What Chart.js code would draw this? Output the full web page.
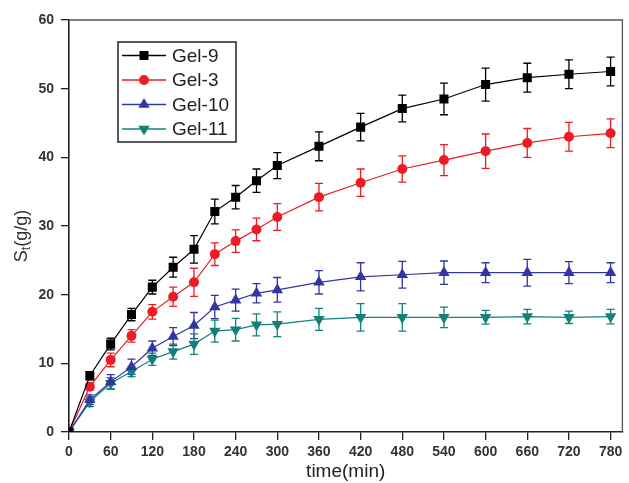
<!DOCTYPE html>
<html>
<head>
<meta charset="utf-8">
<script src="https://cdn.jsdelivr.net/npm/chart.js@4.4.1/dist/chart.umd.min.js"></script>
<style>
  html, body { margin: 0; padding: 0; background: #ffffff; }
  #wrap { width: 629px; height: 483px; }
</style>
</head>
<body>
<div id="wrap"><canvas id="c" width="629" height="483"></canvas></div>
<script>
// ---- data ----
const timeMin = [0, 30, 60, 90, 120, 150, 180, 210, 240, 270, 300, 360, 420, 480, 540, 600, 660, 720, 780];
const xTickLabels = [0, 60, 120, 180, 240, 300, 360, 420, 480, 540, 600, 660, 720, 780];
const yTickLabels = [0, 10, 20, 30, 40, 50, 60];
const seriesNames = ['Gel-9', 'Gel-3', 'Gel-10', 'Gel-11'];

const gel9    = [0, 8.2, 12.8, 17.1, 21.1, 24.0, 26.6, 32.1, 34.2, 36.6, 38.8, 41.6, 44.4, 47.1, 48.5, 50.6, 51.6, 52.1, 52.5];
const gel9Err = [0, 0.6, 0.85, 0.9, 1.0, 1.45, 2.0, 1.8, 1.7, 1.7, 1.9, 2.1, 2.0, 1.95, 2.3, 2.4, 2.1, 2.1, 2.1];
const gel3    = [0, 6.6, 10.5, 14.0, 17.5, 19.7, 21.8, 25.9, 27.8, 29.5, 31.3, 34.2, 36.3, 38.3, 39.6, 40.9, 42.1, 43.0, 43.5];
const gel3Err = [0, 0.5, 1.0, 0.9, 1.05, 1.4, 2.05, 1.65, 1.65, 1.65, 1.95, 2.0, 2.0, 1.9, 2.25, 2.5, 2.1, 2.1, 2.1];
const gel10    = [0, 4.7, 7.3, 9.5, 12.2, 13.9, 15.5, 18.2, 19.2, 20.2, 20.7, 21.8, 22.6, 22.9, 23.2, 23.2, 23.2, 23.2, 23.2];
const gel10Err = [0, 0.7, 1.05, 1.1, 1.05, 1.3, 1.9, 1.7, 1.6, 1.4, 1.8, 1.7, 2.05, 1.95, 1.7, 1.45, 1.95, 1.6, 1.45];
const gel11    = [0, 4.4, 7.1, 8.8, 10.6, 11.7, 12.8, 14.7, 14.9, 15.6, 15.7, 16.4, 16.7, 16.7, 16.7, 16.7, 16.8, 16.7, 16.8];
const gel11Err = [0, 0.7, 0.8, 0.75, 0.9, 1.1, 1.5, 1.6, 1.65, 1.6, 1.8, 1.6, 2.0, 2.0, 1.5, 1.0, 1.05, 0.9, 1.05];

// ---- styles ----
const FONT = "'Liberation Sans', Arial, sans-serif";
const colors = ['#000000', '#ec1c24', '#3336a2', '#11827a'];
const pointStyles = ['rect', 'circle', 'triangle', 'triangle'];
const pointRots = [0, 0, 0, 180];
const pointRadii = [6.4, 5, 6.6, 6.6];

const valueSets = [gel9, gel3, gel10, gel11];
const errSets = [gel9Err, gel3Err, gel10Err, gel11Err];

function toXY(vals) { return timeMin.map((t, i) => ({ x: t, y: vals[i] })); }

const datasets = seriesNames.map((name, k) => ({
  label: name,
  data: toXY(valueSets[k]),
  errors: errSets[k],
  borderColor: colors[k],
  backgroundColor: colors[k],
  borderWidth: 1.2,
  pointStyle: pointStyles[k],
  pointRotation: pointRots[k],
  pointRadius: pointRadii[k],
  pointBorderWidth: 0,
  pointBackgroundColor: colors[k],
  tension: 0
}));

const errorBarPlugin = {
  id: 'errorBars',
  beforeDatasetsDraw(chart) {
    const ctx = chart.ctx;
    const ys = chart.scales.y;
    ctx.save();
    chart.data.datasets.forEach((ds, di) => {
      const meta = chart.getDatasetMeta(di);
      ctx.strokeStyle = ds.borderColor;
      ctx.lineWidth = 1.3;
      meta.data.forEach((pt, i) => {
        const e = ds.errors[i];
        if (!e) return;
        const v = ds.data[i].y;
        const yt = ys.getPixelForValue(v + e);
        const yb = ys.getPixelForValue(v - e);
        const x = pt.x;
        ctx.beginPath();
        ctx.moveTo(x, yt); ctx.lineTo(x, yb);
        ctx.moveTo(x - 4, yt); ctx.lineTo(x + 4, yt);
        ctx.moveTo(x - 4, yb); ctx.lineTo(x + 4, yb);
        ctx.stroke();
      });
    });
    ctx.restore();
  }
};

const framePlugin = {
  id: 'frame',
  afterDraw(chart) {
    const { ctx, chartArea: a } = chart;
    ctx.save();
    ctx.strokeStyle = '#555555';
    ctx.lineWidth = 1.3;
    ctx.beginPath();
    ctx.moveTo(a.left, a.top);
    ctx.lineTo(a.right, a.top);
    ctx.lineTo(a.right, a.bottom);
    ctx.stroke();
    ctx.restore();
  }
};

const yTitlePlugin = {
  id: 'yTitle',
  afterDraw(chart) {
    const ctx = chart.ctx;
    ctx.save();
    ctx.translate(22, 236);
    ctx.rotate(-Math.PI / 2);
    ctx.fillStyle = '#333333';
    ctx.textBaseline = 'middle';
    const big = '18px ' + FONT, small = '12px ' + FONT;
    ctx.font = big; const wS = ctx.measureText('S').width;
    ctx.font = small; const wT = ctx.measureText('t').width;
    ctx.font = big; const wR = ctx.measureText('(g/g)').width;
    let x = -(wS + wT + wR) / 2;
    ctx.font = big; ctx.fillText('S', x, 0); x += wS;
    ctx.font = small; ctx.fillText('t', x, 5); x += wT;
    ctx.font = big; ctx.fillText('(g/g)', x, 0);
    ctx.restore();
  }
};

const legendPlugin = {
  id: 'boxLegend',
  afterDraw(chart) {
    const ctx = chart.ctx;
    ctx.save();
    ctx.strokeStyle = '#222222';
    ctx.lineWidth = 1.5;
    ctx.strokeRect(118, 42, 118, 100);
    chart.data.datasets.forEach((ds, i) => {
      const y = 55.5 + i * 24.5;
      ctx.strokeStyle = ds.borderColor;
      ctx.lineWidth = 1.3;
      ctx.beginPath();
      ctx.moveTo(122, y); ctx.lineTo(166, y);
      ctx.stroke();
      ctx.fillStyle = ds.pointBackgroundColor;
      Chart.helpers.drawPoint(ctx, {
        pointStyle: ds.pointStyle, rotation: ds.pointRotation,
        radius: ds.pointRadius, borderWidth: 0
      }, 144, y);
      ctx.fillStyle = '#222222';
      ctx.font = '19px ' + FONT;
      ctx.textBaseline = 'middle';
      ctx.fillText(ds.label, 172, y + 1);
    });
    ctx.restore();
  }
};

new Chart(document.getElementById('c'), {
  type: 'line',
  data: { datasets },
  plugins: [errorBarPlugin, framePlugin, yTitlePlugin, legendPlugin],
  options: {
    responsive: false,
    animation: false,
    devicePixelRatio: 1,
    layout: { padding: { top: 20, right: 3, left: 0, bottom: 0 } },
    plugins: { legend: { display: false }, tooltip: { enabled: false } },
    scales: {
      x: {
        type: 'linear',
        min: 0,
        max: 797,
        afterBuildTicks(scale) { scale.ticks = xTickLabels.map(v => ({ value: v })); },
        afterFit(scale) { scale.height = 51; },
        grid: { display: true, drawOnChartArea: false, drawTicks: true, tickLength: 8, color: '#222222', lineWidth: 1.3 },
        border: { display: true, color: '#222222', width: 1.6 },
        ticks: { color: '#333333', padding: 4, maxRotation: 0, font: { family: FONT, size: 14, weight: 'bold' } },
        title: { display: true, text: 'time(min)', color: '#222222', padding: 0, font: { family: FONT, size: 19 } }
      },
      y: {
        type: 'linear',
        min: 0,
        max: 60,
        afterBuildTicks(scale) { scale.ticks = yTickLabels.map(v => ({ value: v })); },
        afterFit(scale) { scale.width = 69; },
        grid: { display: true, drawOnChartArea: false, drawTicks: true, tickLength: 8, color: '#222222', lineWidth: 1.3 },
        border: { display: true, color: '#222222', width: 1.6 },
        ticks: { color: '#333333', padding: 7, font: { family: FONT, size: 14, weight: 'bold' } }
      }
    }
  }
});
</script>
</body>
</html>
